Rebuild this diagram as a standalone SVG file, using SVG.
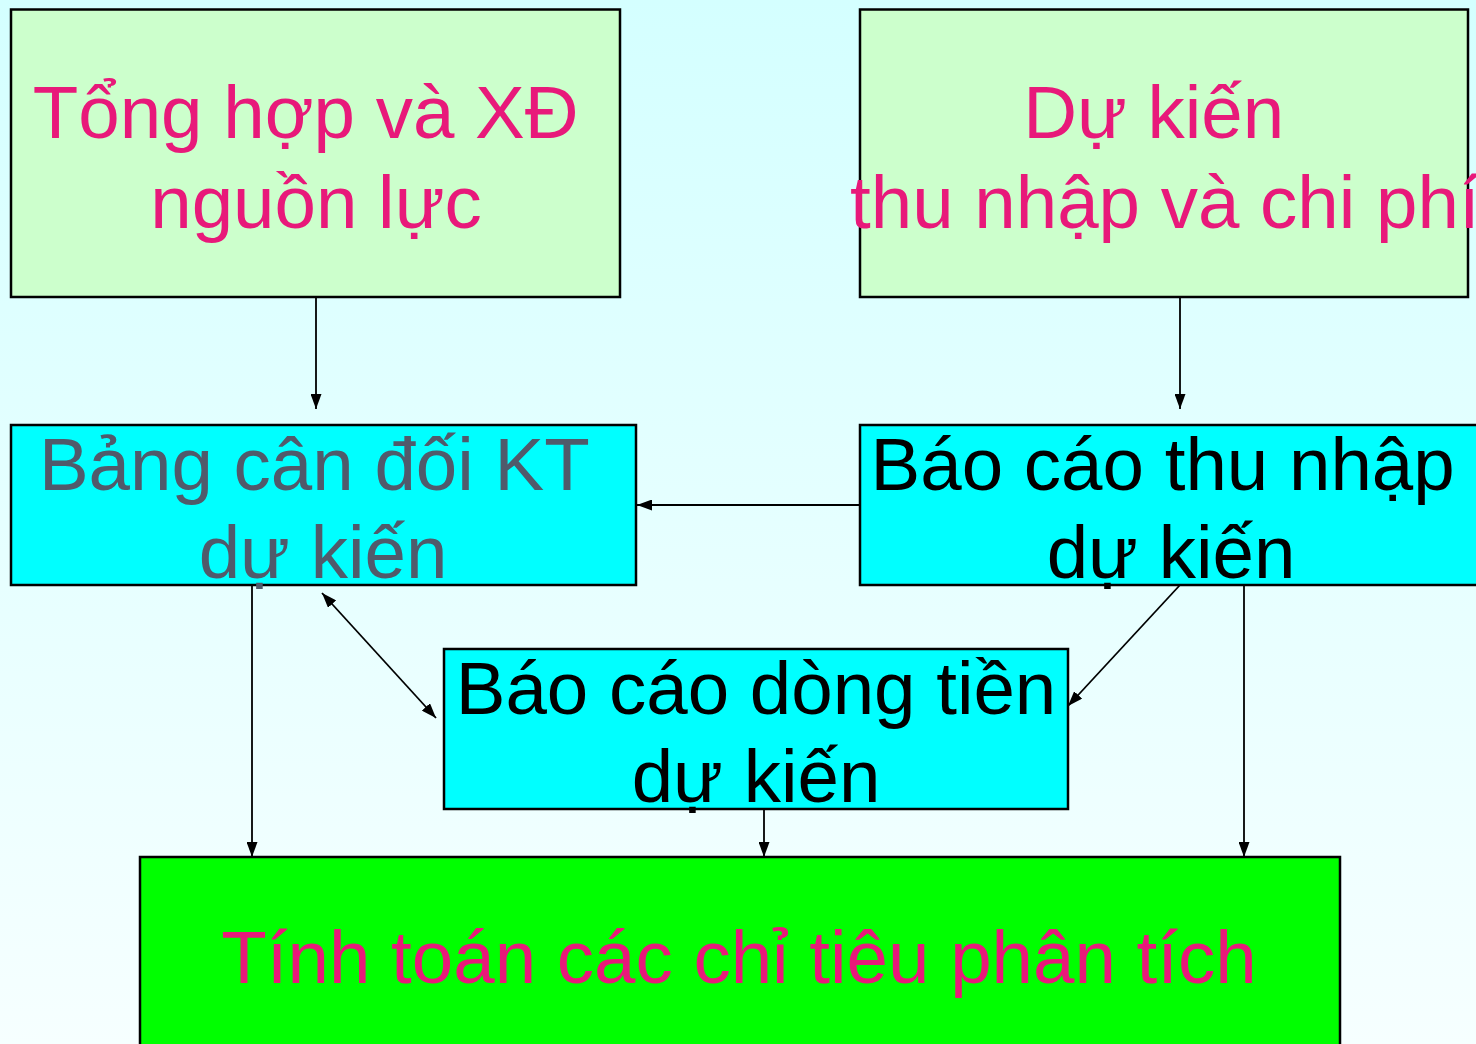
<svg xmlns="http://www.w3.org/2000/svg" width="1476" height="1044" viewBox="0 0 1476 1044">
<defs>
<linearGradient id="bg" x1="0" y1="0" x2="0" y2="1">
<stop offset="0" stop-color="#d4ffff"/>
<stop offset="1" stop-color="#f6ffff"/>
</linearGradient>
<marker id="ah" viewBox="0 0 15 11" refX="15" refY="5.5" markerWidth="15" markerHeight="11" markerUnits="userSpaceOnUse" orient="auto-start-reverse">
<path d="M0,0 L15,5.5 L0,11 Z" fill="#000"/>
</marker>
<style>
.box{stroke:#000;stroke-width:2.5}
.t{font-family:"Liberation Sans",Arial,sans-serif;font-size:74.5px;text-anchor:middle}
.pink{fill:#e8197a}
.gray{fill:#505a6b}
.blk{fill:#000}
.c{stroke:#000;stroke-width:1.8;fill:none;marker-end:url(#ah)}
</style>
</defs>
<rect width="1476" height="1044" fill="url(#bg)"/>
<g id="connectors">
<line class="c" x1="316" y1="297" x2="316" y2="409"/>
<line class="c" x1="1180" y1="297" x2="1180" y2="409"/>
<line class="c" x1="860" y1="505" x2="637" y2="505"/>
<line class="c" x1="322" y1="593" x2="436" y2="718" style="marker-start:url(#ah)"/>
<line class="c" x1="1180" y1="585" x2="1068" y2="706"/>
<line class="c" x1="252" y1="585" x2="252" y2="857"/>
<line class="c" x1="764" y1="809" x2="764" y2="857"/>
<line class="c" x1="1244" y1="585" x2="1244" y2="857"/>
</g>
<g id="n1">
<rect class="box" x="11" y="9.5" width="609" height="287.5" fill="#ccffcc"/>
<text class="t pink" x="316" y="138" xml:space="preserve">Tổng hợp và XĐ </text>
<text class="t pink" x="316" y="228">nguồn lực</text>
</g>
<g id="n2">
<rect class="box" x="860" y="9.5" width="608" height="287.5" fill="#ccffcc"/>
<text class="t pink" x="1164" y="138" xml:space="preserve">Dự kiến </text>
<text class="t pink" x="850" y="228" style="text-anchor:start">thu nhập và chi phí</text>
</g>
<g id="n3">
<rect class="box" x="11" y="425" width="625" height="160" fill="#00ffff"/>
<text class="t gray" x="324" y="490" xml:space="preserve">Bảng cân đối KT </text>
<text class="t gray" x="323" y="578">dự kiến</text>
</g>
<g id="n4">
<rect class="box" x="860" y="425" width="622" height="160" fill="#00ffff"/>
<text class="t blk" x="1173" y="490" xml:space="preserve">Báo cáo thu nhập </text>
<text class="t blk" x="1171" y="578">dự kiến</text>
</g>
<g id="n5">
<rect class="box" x="444" y="649" width="624" height="160" fill="#00ffff"/>
<text class="t blk" x="756" y="714">Báo cáo dòng tiền</text>
<text class="t blk" x="756" y="802">dự kiến</text>
</g>
<g id="n6">
<rect class="box" x="140" y="857" width="1200" height="200" fill="#00ff00"/>
<text class="t pink" x="739" y="983">Tính toán các chỉ tiêu phân tích</text>
</g>
</svg>
